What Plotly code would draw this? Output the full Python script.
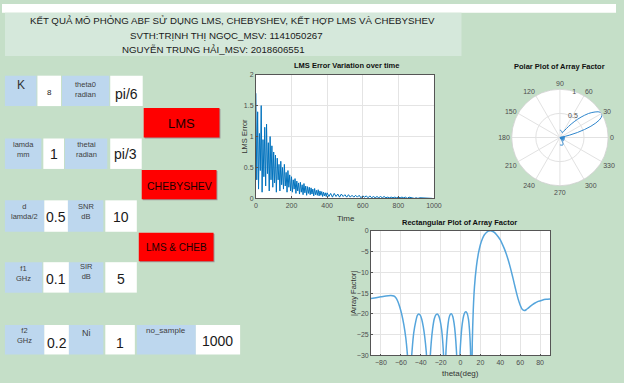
import plotly.graph_objects as go

W, H = 624, 383

# ---------------- data ----------------
title_lines = [
    "KẾT QUẢ MÔ PHỎNG ABF SỬ DỤNG LMS, CHEBYSHEV, KẾT HỢP LMS VÀ CHEBYSHEV",
    "SVTH:TRỊNH THỊ NGỌC_MSV: 1141050267",
    "NGUYỄN TRUNG HẢI_MSV: 2018606551",
]

param_labels = ["K", "theta0<br>radian", "lamda<br>mm", "thetai<br>radian",
                "d<br>lamda/2", "SNR<br>dB", "f1<br>GHz", "SIR<br>dB",
                "f2<br>GHz", "Ni", "no_sample"]
param_values = ["8", "pi/6", "1", "pi/3", "0.5", "10", "0.1", "5", "0.2", "1", "1000"]
button_labels = ["LMS", "CHEBYSHEV", "LMS & CHEB"]

lms_time = list(range(0, 400, 5)) + list(range(400, 1000, 10))
lms_error = [
    1.70, 0.30, 1.40, 0.15, 1.05, 0.45, 1.50, 0.10, 0.95, 0.35,
    1.15, 0.20, 1.20, 0.40, 0.90, 0.12, 1.00, 0.30, 0.85, 0.18,
    0.75, 0.25, 0.70, 0.10, 0.65, 0.30, 0.55, 0.12, 0.60, 0.22,
    0.50, 0.15, 0.55, 0.20, 0.42, 0.10, 0.45, 0.18, 0.38, 0.12,
    0.35, 0.10, 0.30, 0.15, 0.32, 0.08, 0.28, 0.12, 0.25, 0.07,
    0.26, 0.10, 0.22, 0.06, 0.24, 0.09, 0.20, 0.05, 0.19, 0.08,
    0.18, 0.06, 0.17, 0.07, 0.15, 0.04, 0.16, 0.06, 0.13, 0.05,
    0.14, 0.04, 0.12, 0.05, 0.11, 0.03, 0.10, 0.04, 0.09, 0.03,
    0.09, 0.03, 0.08, 0.02, 0.08, 0.03, 0.07, 0.02, 0.07, 0.03,
    0.06, 0.02, 0.06, 0.02, 0.05, 0.02, 0.05, 0.02, 0.05, 0.01,
    0.04, 0.02, 0.04, 0.01, 0.04, 0.01, 0.03, 0.01, 0.03, 0.01,
    0.03, 0.01, 0.03, 0.01, 0.02, 0.01, 0.02, 0.01, 0.02, 0.01,
    0.02, 0.01, 0.02, 0.01, 0.02, 0.00, 0.02, 0.01, 0.01, 0.00,
    0.01, 0.00, 0.01, 0.01, 0.01, 0.00, 0.01, 0.00, 0.01, 0.00,
]

af_theta = [-90, -85, -80, -75, -70, -67, -65, -63, -61, -59, -57, -55, -53.5, -52.2,
            -51, -49.8, -48.6, -47, -45, -43.5, -42, -40.5, -39, -37.5, -36, -34.5,
            -33.3, -32, -30.8, -29.5, -28, -26.5, -25, -23.5, -22, -20.5, -19, -17.8,
            -16.9, -16, -15, -14, -12.8, -11.5, -10.2, -9, -7.8, -6.5, -5.3, -4.2,
            -3.1, -2, -0.8, 0.5, 1.8, 3.2, 4.5, 5.5, 6.7, 8, 9, 10, 11, 11.8, 12.8,
            14, 16, 18, 20, 22, 24, 26, 28, 30, 32, 34, 36, 38, 40, 42, 44, 46, 48,
            50, 52, 54, 56, 58, 60, 62, 64, 66, 68, 70, 74, 78, 82, 86, 90]
af_db = [-16.3, -16.1, -15.9, -15.7, -15.6, -15.7, -16.1, -17.0, -18.4, -20.2, -22.6,
         -25.8, -29.5, -34, -45, -33, -28.5, -24.5, -21.8, -20.4, -20.0, -20.3, -21.3,
         -23.0, -25.5, -29, -34, -45, -32, -27, -23.5, -21.3, -20.3, -20.0, -20.4,
         -21.6, -23.8, -27, -31, -45, -31, -26.5, -23, -20.9, -20.1, -20.0, -20.6,
         -22.2, -24.8, -28.5, -34, -45, -31, -25.5, -22.3, -20.4, -19.6, -19.5, -19.9,
         -21.3, -23.8, -28.5, -45, -27, -19, -13.5, -8.5, -5.4, -3.3, -1.9, -0.95,
         -0.4, -0.08, 0, -0.1, -0.4, -0.9, -1.5, -2.2, -3.2, -4.3, -5.6, -7.1, -8.8,
         -10.7, -12.7, -14.7, -16.5, -17.9, -18.9, -19.2, -19.0, -18.6, -18.2, -17.5,
         -17.0, -16.7, -16.5, -16.4]
af_mag = [10 ** (d / 20.0) for d in af_db]

polar_angles = [0, 30, 60, 90, 120, 150, 180, 210, 240, 270, 300, 330]

# ---------------- helpers ----------------
FONT = "Liberation Sans, Arial, sans-serif"
BG = "#c5dfc8"
PANEL = "#d5e8db"
BLUE = "#bdd7ee"
RED = "#ff0000"


def px(x):
    return x / W


def py(y):
    return 1 - y / H


shapes = []
annotations = []


def box(x0, y0, x1, y1, fill):
    shapes.append(dict(type="rect", xref="paper", yref="paper",
                       x0=px(x0), x1=px(x1), y0=py(y1), y1=py(y0),
                       fillcolor=fill, line=dict(width=0), layer="below"))


def text(x, y, s, size, color="#222", bold=False, angle=0, family=FONT):
    if bold:
        s = "<b>" + s + "</b>"
    annotations.append(dict(xref="paper", yref="paper", x=px(x), y=py(y), text=s,
                            showarrow=False, xanchor="center", yanchor="middle",
                            textangle=angle,
                            font=dict(size=size, color=color, family=family)))


# top white strip and title panel
box(0, 0, W, 9, "#ffffff")
box(3, 9, 467, 53, PANEL)
text(234, 17, title_lines[0], 9.7, "#1a1a1a")
text(228, 32, title_lines[1], 9.7, "#1a1a1a")
text(215, 46, title_lines[2], 9.7, "#1a1a1a")

# parameter grid: (label box, value box, label y, value y, label size)
grid = [
    ((3, 73, 35, 104), (36, 73, 60, 104), 82, 90, 12),
    ((61, 73, 109, 104), (110, 73, 143, 104), 87, 92, 7.5),
    ((3, 137, 40, 168), (42, 137, 63, 168), 148, 153, 7.5),
    ((64, 137, 107, 168), (110, 137, 142, 168), 148, 153, 7.5),
    ((3, 200, 43, 232), (43, 200, 67, 232), 211, 217, 7.5),
    ((67, 200, 103, 232), (105, 200, 137, 232), 211, 217, 7.5),
    ((3, 263, 41, 294), (42, 263, 68, 294), 275, 280, 7.5),
    ((68, 263, 103, 294), (105, 263, 137, 294), 272, 280, 7.5),
    ((3, 327, 43, 357), (43, 327, 68, 357), 338, 345, 7.5),
    ((68, 327, 103, 357), (105, 327, 135, 357), 335, 345, 9),
    ((137, 327, 197, 357), (197, 327, 242, 357), 333, 343, 8),
]
for i, (lb, vb, ly, vy, lsize) in enumerate(grid):
    box(*lb, BLUE)
    box(*vb, "#ffffff")
    text((lb[0] + lb[2]) / 2, ly, param_labels[i], lsize, "#404040" if i else "#333")
    vsize = 8 if i == 0 else 14
    text((vb[0] + vb[2]) / 2, vy, param_values[i], vsize, "#1a1a1a")

buttons = [(144, 106, 221, 136, 13), (142, 169, 218, 199, 10.5), (139, 233, 215, 262, 10)]
for (x0, y0, x1, y1, fs), lab in zip(buttons, button_labels):
    box(x0 + 1, y0 + 1, x1 + 1, y1 + 1, "#9a9a9a")
    box(x0, y0, x1, y1, RED)
    text((x0 + x1) / 2, (y0 + y1) / 2 + 1, lab, fs, "#1a0000")

# plot titles and axis labels
text(350, 63, "LMS Error Variation over time", 7.5, "#111", bold=True)
text(350, 218, "Time", 8, "#333")
text(246, 135, "LMS Error", 7.5, "#333", angle=-90)
text(567, 64, "Polar Plot of Array Factor", 7.5, "#111", bold=True)
text(465, 223, "Rectangular Plot of Array Factor", 7.5, "#111", bold=True)
text(466, 376, "theta(deg)", 8, "#333")
text(357, 295, "|Array Factor|", 7.5, "#333", angle=-90)

# ---------------- traces ----------------
fig = go.Figure()
fig.add_trace(go.Scatter(x=lms_time, y=lms_error, xaxis="x", yaxis="y", mode="lines",
                         line=dict(color="#0072BD", width=1), showlegend=False))
fig.add_trace(go.Scatter(x=af_theta, y=af_db, xaxis="x2", yaxis="y2", mode="lines",
                         line=dict(color="#55a5dc", width=1.5, shape="spline", smoothing=0.6),
                         showlegend=False))
fig.add_trace(go.Scatterpolar(theta=af_theta, r=af_mag, mode="lines",
                              line=dict(color="#2f86cc", width=1), showlegend=False))

tickfont = dict(size=7, color="#4d4d4d", family=FONT)
axis_common = dict(showline=True, mirror=True, linecolor="#555", linewidth=0.8,
                   showgrid=True, gridcolor="#e4e4e4", gridwidth=0.8, zeroline=False,
                   ticks="inside", ticklen=2, tickcolor="#555", tickfont=tickfont)

fig.update_layout(
    width=W, height=H, margin=dict(l=0, r=0, t=0, b=0),
    paper_bgcolor=BG, plot_bgcolor="#ffffff", showlegend=False,
    xaxis=dict(domain=[px(258), px(439)], anchor="y", range=[0, 1000],
               tickvals=[0, 200, 400, 600, 800, 1000], **axis_common),
    yaxis=dict(domain=[py(198), py(72)], anchor="x", range=[0, 2],
               tickvals=[0, 0.5, 1, 1.5, 2], ticktext=["0", "0.5", "1", "1.5", "2"],
               **axis_common),
    xaxis2=dict(domain=[px(375), px(557)], anchor="y2", range=[-90, 90],
                tickvals=[-80, -60, -40, -20, 0, 20, 40, 60, 80], **axis_common),
    yaxis2=dict(domain=[py(358), py(231)], anchor="x2", range=[-30, 0],
                tickvals=[0, -5, -10, -15, -20, -25, -30], **axis_common),
    polar=dict(
        domain=dict(x=[px(518), px(616)], y=[py(186), py(86)]),
        bgcolor="#ffffff",
        angularaxis=dict(tickmode="array", tickvals=polar_angles,
                         ticktext=[str(a) for a in polar_angles],
                         direction="counterclockwise", rotation=0,
                         showline=True, linecolor="#cfcfcf", linewidth=0.8,
                         gridcolor="#e2e2e2", ticks="", tickfont=tickfont),
        radialaxis=dict(range=[0, 1], tickvals=[0.5, 1], ticktext=["0.5", "1"],
                        angle=80, tickangle=80, showline=False, ticks="",
                        gridcolor="#e2e2e2", tickfont=tickfont),
    ),
    shapes=shapes,
    annotations=annotations,
)

fig.write_html("out.html", config={"displayModeBar": False},
               post_script="document.body.style.margin='0px';")
